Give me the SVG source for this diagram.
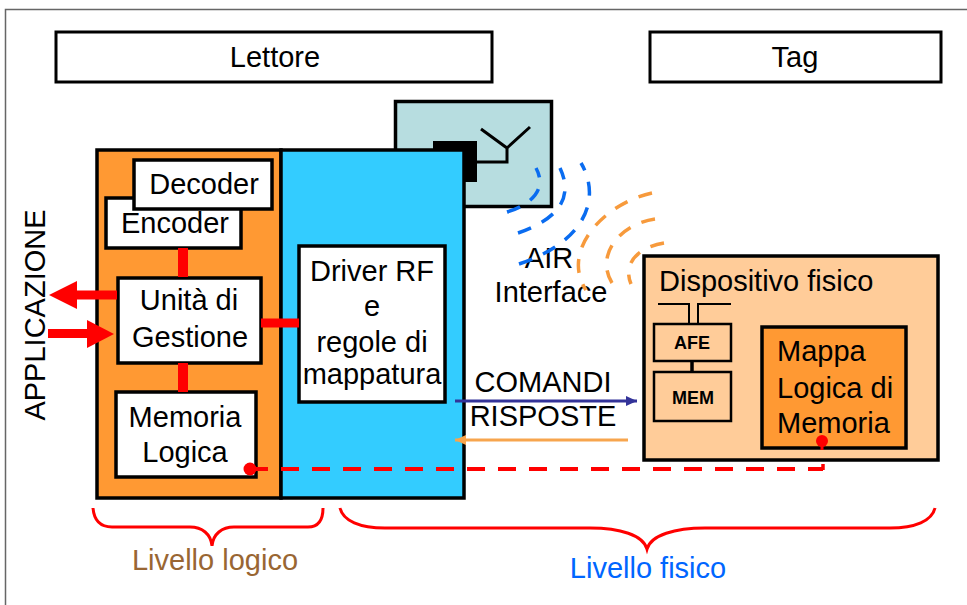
<svg xmlns="http://www.w3.org/2000/svg" width="967" height="605" viewBox="0 0 967 605">
<defs>
<marker id="ab" markerUnits="userSpaceOnUse" markerWidth="12" markerHeight="12" refX="11" refY="6" orient="auto"><path d="M0 1L11 6L0 11z" fill="#333399"/></marker>
<marker id="ao" markerUnits="userSpaceOnUse" markerWidth="12" markerHeight="12" refX="11" refY="6" orient="auto"><path d="M0 1L11 6L0 11z" fill="#f7a54e"/></marker>
</defs>
<style>
text{font-family:"Liberation Sans",Arial,sans-serif;font-size:29px;fill:#000;text-anchor:middle}
.s{text-anchor:start}
.b{stroke:#000;stroke-width:3.500}
.w{fill:#fff}
.t{stroke:#000;stroke-width:3;fill:#fff}
.air{fill:none;stroke-width:3.500;stroke-dasharray:14 12}
.br{fill:none;stroke:#f00;stroke-width:3}
.red{stroke:#f00;fill:none}
.small{font-size:18px;font-weight:bold}
</style>
<rect width="967" height="605" fill="#fff"/>
<path d="M967 9.500H5.500V605" fill="none" stroke="#666" stroke-width="1.500"/>

<g id="lettore"><rect x="56" y="32" width="436" height="50" class="t"/><text x="275" y="67">Lettore</text></g>
<g id="tag"><rect x="650" y="32" width="291" height="50" class="t"/><text x="795" y="67">Tag</text></g>

<g id="antenna">
<rect x="395.500" y="101.500" width="156" height="105" fill="#b7dde0" class="b"/>
<rect x="433" y="141" width="44" height="41" fill="#000"/>
<path d="M477 162H507V148M481 129L507 148L530 127" fill="none" stroke="#000" stroke-width="3"/>
</g>

<g id="livello-logico-box"><rect x="97" y="150" width="184" height="348" fill="#ff9933" class="b"/></g>
<g id="livello-fisico-box"><rect x="281" y="150" width="183" height="348" fill="#33ccff" class="b"/></g>

<g id="encoder"><rect x="106" y="198" width="135" height="50" class="b w"/><text x="175" y="233">Encoder</text></g>
<g id="decoder"><rect x="134" y="160" width="138" height="49" class="b w"/><text x="204" y="194">Decoder</text></g>
<g id="unita"><rect x="118" y="278" width="143" height="85" class="b w"/><text x="189" y="310">Unità di</text><text x="190" y="347">Gestione</text></g>
<g id="memoria"><rect x="116" y="392" width="140" height="85" class="b w"/><text x="185" y="427">Memoria</text><text x="185" y="462">Logica</text></g>
<g id="driver"><rect x="299" y="246" width="146" height="156" class="b w"/><text x="372" y="281">Driver RF</text><text x="372" y="316">e</text><text x="372" y="352">regole di</text><text x="372" y="384">mappatura</text></g>

<g id="air-interface"><text x="549" y="268">AIR</text><text x="551" y="302">Interface</text></g>

<g id="onde">
<path class="air" stroke="#0a6cf0" d="M507 212C530 205 548 190 536 168"/>
<path class="air" stroke="#0a6cf0" d="M518 233C555 220 575 200 560 168"/>
<path class="air" stroke="#0a6cf0" d="M519 264C590 240 600 195 581 163"/>
<path class="air" stroke="#f79a3c" d="M652 193C605 203 560 250 586 290"/>
<path class="air" stroke="#f79a3c" d="M655 219C620 224 595 255 612 283"/>
<path class="air" stroke="#f79a3c" d="M664 243C640 247 622 262 631 284"/>
</g>

<g id="dispositivo">
<rect x="644" y="256" width="294" height="204" fill="#ffcc99" class="b"/>
<text class="s" x="659" y="291">Dispositivo fisico</text>
</g>
<g id="afe"><rect x="654" y="324" width="77" height="37" fill="#ffcc99" stroke="#000" stroke-width="2.500"/><text class="small" x="692" y="349">AFE</text>
<path d="M658 304H689V324M731 304H698V324" fill="none" stroke="#000" stroke-width="2"/></g>
<g id="mem"><rect x="654" y="372" width="77" height="49" fill="#ffcc99" stroke="#000" stroke-width="2.500"/><text class="small" x="693" y="404">MEM</text></g>
<g id="mappa"><rect x="762" y="327" width="144" height="121" fill="#ff9933" class="b"/><text class="s" x="777" y="361">Mappa</text><text class="s" x="777" y="398">Logica di</text><text class="s" x="777" y="433">Memoria</text></g>

<g id="connettori">
<path d="M692 361V372" stroke="#000" stroke-width="3.500"/>
<path class="red" stroke-width="10" d="M183 248V277M183 363V392"/>
<path class="red" stroke-width="9" d="M261 323H299"/>
<path d="M77 281L49 295L77 309z" fill="#f00"/>
<rect x="76" y="290.500" width="41" height="9" fill="#f00"/>
<path d="M87 320L114 334L87 348z" fill="#f00"/>
<rect x="48" y="329" width="40" height="9" fill="#f00"/>
<path d="M455 401H637" stroke="#333399" stroke-width="3" fill="none" marker-end="url(#ab)"/>
<path d="M628 440H455" stroke="#f7a54e" stroke-width="3" fill="none" marker-end="url(#ao)"/>
<circle cx="250" cy="469" r="6.500" fill="#f00"/>
<path class="red" stroke-width="4" stroke-dasharray="18 13" d="M250 469H823"/>
<path class="red" stroke-width="3.500" d="M823 470V464"/>
<circle cx="822" cy="441" r="6" fill="#f00"/>
<path class="red" stroke-width="3" d="M822 441V450"/>
</g>

<g id="testo-frecce">
<text x="543" y="392">COMANDI</text><text x="543" y="426">RISPOSTE</text>
<text transform="translate(45 315) rotate(-90)">APPLICAZIONE</text>
</g>

<g id="graffa-logico"><path class="br" d="M93 508C94 520 100 527 112 527H190C202 527 211 534 212 546C213 534 222 527 234 527H308C318 527 323 520 323 508"/><text x="215" y="570" style="fill:#996633">Livello logico</text></g>
<g id="graffa-fisico"><path class="br" d="M340 508C343 521 360 528 385 528H590C620 528 643 535 647 549C651 535 675 528 705 528H890C915 528 932 521 935 508"/><text x="648" y="578" style="fill:#0066ff">Livello fisico</text></g>
</svg>
